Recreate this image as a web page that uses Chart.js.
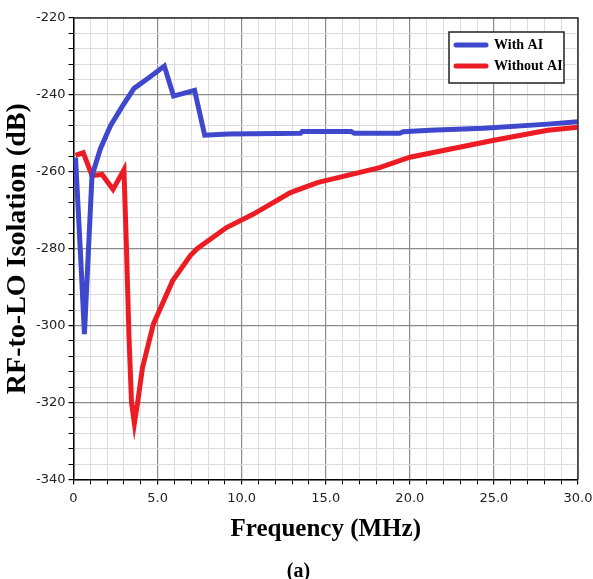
<!DOCTYPE html>
<html lang="en">
<head>
  <meta charset="UTF-8">
  <title>RF-to-LO Isolation</title>
  <script src="https://cdn.jsdelivr.net/npm/chart.js"></script>
  <style>
    body { margin: 0; background: #fff; }
    #wrap { width: 593px; height: 579px; }
  </style>
</head>
<body>
  <div id="wrap"><canvas id="isoChart"></canvas></div>

  <script>
    // frequency (MHz) / isolation (dB)
    const freqWithAI = [0.12, 0.4, 0.65, 1.1, 1.6, 2.2, 2.9, 3.6, 4.5, 5.4, 5.95, 7.2, 7.8, 9.2, 13.5, 13.6, 16.5, 16.7, 19.4, 19.6, 21.2, 24.4, 28.2, 30];
    const isoWithAI = [-256.3, -280, -302.2, -261, -254, -248, -243, -238.3, -235.5, -232.5, -240.3, -238.8, -250.5, -250.2, -250, -249.5, -249.5, -250, -250, -249.6, -249.2, -248.7, -247.6, -247];

    const freqWithoutAI = [0.12, 0.58, 1.1, 1.7, 2.35, 3.0, 3.15, 3.3, 3.45, 3.62, 3.8, 4.1, 4.75, 5.9, 6.95, 7.35, 9.1, 10.7, 12.9, 14.5, 18.2, 20.0, 25.0, 28.2, 30];
    const isoWithoutAI = [-255.7, -255, -261, -260.7, -264.6, -259.5, -280, -303, -320, -325.4, -320.4, -311, -299.6, -288.3, -281.8, -280, -274.5, -271, -265.4, -262.8, -258.9, -256.2, -251.8, -249.2, -248.4];

    const seriesLabels = ['With AI', 'Without AI'];
    const seriesColors = ['#3f48cc', '#ed1c24'];

    const toPoints = (xs, ys) => xs.map((x, i) => ({ x: x, y: ys[i] }));

    // legend box drawn inside the plot, top right, plus the top/right frame
    const boxLegend = {
      id: 'boxLegend',
      afterDatasetsDraw(chart) {
        const ctx = chart.ctx;
        const area = chart.chartArea;
        const w = 115, h = 51;
        const x0 = area.right - 14 - w, y0 = area.top + 14;
        ctx.save();
        ctx.fillStyle = '#fff';
        ctx.fillRect(x0, y0, w, h);
        ctx.strokeStyle = '#222';
        ctx.lineWidth = 1.5;
        ctx.strokeRect(x0, y0, w, h);
        ctx.font = 'bold 14px "Liberation Serif", serif';
        ctx.textBaseline = 'middle';
        chart.data.datasets.forEach((ds, i) => {
          const ly = y0 + 13 + i * 21;
          ctx.strokeStyle = ds.borderColor;
          ctx.lineWidth = 5;
          ctx.lineCap = 'round';
          ctx.beginPath();
          ctx.moveTo(x0 + 7, ly);
          ctx.lineTo(x0 + 37, ly);
          ctx.stroke();
          ctx.fillStyle = '#000';
          ctx.fillText(ds.label, x0 + 45, ly);
        });
        ctx.restore();
      },
      afterDraw(chart) {
        const ctx = chart.ctx;
        const area = chart.chartArea;
        ctx.save();
        ctx.strokeStyle = '#333';
        ctx.lineWidth = 1.5;
        ctx.beginPath();
        ctx.moveTo(area.left, area.top);
        ctx.lineTo(area.right, area.top);
        ctx.lineTo(area.right, area.bottom);
        ctx.stroke();
        ctx.restore();
      }
    };

    new Chart(document.getElementById('isoChart'), {
      type: 'line',
      data: {
        datasets: [
          {
            label: seriesLabels[0],
            data: toPoints(freqWithAI, isoWithAI),
            borderColor: seriesColors[0],
            borderWidth: 5,
            pointRadius: 0,
            tension: 0
          },
          {
            label: seriesLabels[1],
            data: toPoints(freqWithoutAI, isoWithoutAI),
            borderColor: seriesColors[1],
            borderWidth: 5,
            pointRadius: 0,
            tension: 0
          }
        ]
      },
      options: {
        responsive: true,
        maintainAspectRatio: false,
        animation: false,
        layout: { padding: { top: 18, right: 0, left: 4, bottom: 0 } },
        plugins: {
          legend: { display: false },
          tooltip: { enabled: false },
          title: {
            display: true,
            position: 'bottom',
            text: '(a)',
            color: '#000',
            font: { family: '"Liberation Serif", serif', size: 20, weight: 'bold', lineHeight: 0.7 },
            padding: { top: 20, bottom: 0 }
          }
        },
        scales: {
          x: {
            type: 'linear',
            min: 0,
            max: 30,
            afterFit: scale => { scale.paddingRight = 15; },
            border: { color: '#000', width: 1.5 },
            grid: {
              color: ctx => (ctx.tick && ctx.tick.value % 5 === 0) ? '#8a8a8a' : '#dcdcdc',
              lineWidth: ctx => (ctx.tick && ctx.tick.value % 5 === 0) ? 1.2 : 1,
              tickColor: '#000',
              tickLength: 5
            },
            ticks: {
              stepSize: 1,
              autoSkip: false,
              maxRotation: 0,
              padding: 6,
              color: '#222',
              font: { family: '"DejaVu Sans", sans-serif', size: 13 },
              callback: v => v === 0 ? '0' : (v % 5 === 0 ? v.toFixed(1) : '')
            },
            title: {
              display: true,
              text: 'Frequency (MHz)',
              color: '#000',
              font: { family: '"Liberation Serif", serif', size: 25, weight: 'bold' },
              padding: { top: 3, bottom: 0 }
            }
          },
          y: {
            min: -340,
            max: -220,
            border: { color: '#000', width: 1.5 },
            grid: {
              color: ctx => (ctx.tick && ctx.tick.value % 20 === 0) ? '#8a8a8a' : '#dcdcdc',
              lineWidth: ctx => (ctx.tick && ctx.tick.value % 20 === 0) ? 1.2 : 1,
              tickColor: '#000',
              tickLength: 5
            },
            ticks: {
              stepSize: 4,
              autoSkip: false,
              padding: 3,
              color: '#222',
              font: { family: '"DejaVu Sans", sans-serif', size: 13 },
              callback: v => v % 20 === 0 ? String(v) : ''
            },
            title: {
              display: true,
              text: 'RF-to-LO Isolation (dB)',
              color: '#000',
              font: { family: '"Liberation Serif", serif', size: 28, weight: 'bold', lineHeight: 1.0 },
              padding: { top: 0, bottom: 1 }
            }
          }
        }
      },
      plugins: [boxLegend]
    });
  </script>
</body>
</html>
